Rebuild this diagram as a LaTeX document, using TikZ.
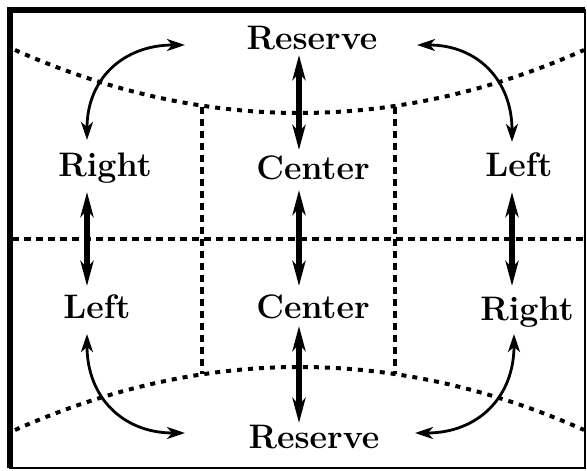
\documentclass[tikz,border=0pt]{standalone}
\usepackage{fontspec}
\usetikzlibrary{arrows.meta}
\tikzset{
  lbl/.style={anchor=base, inner sep=0pt, font={\fontsize{34}{40}\selectfont\bfseries}},
  grid/.style={line width=4pt, dash pattern=on 7pt off 5pt},
  arc/.style={line width=4pt, dash pattern=on 5pt off 6pt},
  dar/.style={line width=5.5pt, {Stealth[length=25pt,width=13pt,inset=7pt]}-{Stealth[length=25pt,width=13pt,inset=7pt]}},
  car/.style={line width=2.8pt, {Stealth[length=18pt,width=12pt,inset=5pt]}-{Stealth[length=18pt,width=12pt,inset=5pt]}},
}
\begin{document}
\begin{tikzpicture}[x=1pt,y=1pt]
\useasboundingbox (0,0) rectangle (587,471);
\fill[white] (0,0) rectangle (587,471);
% frame
\draw[line width=2.5pt] (10,3) rectangle (585,461);
\draw[line width=5.5pt] (10,3) -- (10,461) -- (585,461);
% labels
\node[lbl] (rt)  at (312,421) {Reserve};
\node[lbl] (rlu) at (105,294) {Right};
\node[lbl] (cu)  at (313,291) {Center};
\node[lbl] (llu) at (519,294) {Left};
\node[lbl] (lll) at (97,152)  {Left};
\node[lbl] (cl)  at (313,152) {Center};
\node[lbl] (rlr) at (527,150) {Right};
\node[lbl] (rb)  at (314,22)  {Reserve};
% grid lines
\coordinate (hl) at (12,232);
\coordinate (hr) at (584,232);
\coordinate (v1t) at (202,364);
\coordinate (v1b) at (202,97);
\coordinate (v2t) at (395,364);
\coordinate (v2b) at (395,97);
\draw[grid] (hl) -- (hr);
\draw[grid] (v1t) -- (v1b);
\draw[grid] (v2t) -- (v2b);
% curved boundaries
\coordinate (tl) at (15,421);
\coordinate (tr) at (584,421);
\coordinate (bl) at (15,41);
\coordinate (br) at (584,41);
\draw[arc] (tl) .. controls (204,337) and (395,337) .. (tr);
\draw[arc] (bl) .. controls (204,125) and (395,125) .. (br);
% straight arrows
\draw[dar] ([xshift=-13pt,yshift=-5pt]rt.base) -- ([xshift=-14pt,yshift=30pt]cu.base);
\draw[dar] ([xshift=-14pt,yshift=-10pt]cu.base) -- ([xshift=-14pt,yshift=33pt]cl.base);
\draw[dar] ([xshift=-14pt,yshift=-7pt]cl.base) -- ([xshift=-15pt,yshift=26pt]rb.base);
\draw[dar] ([xshift=-18pt,yshift=-15pt]rlu.base) -- ([xshift=-10pt,yshift=33pt]lll.base);
\draw[dar] ([xshift=-7pt,yshift=-15pt]llu.base) -- ([xshift=-15pt,yshift=35pt]rlr.base);
% curved arrows
\draw[car] ([xshift=-18pt,yshift=37pt]rlu.base) to[out=90,in=180,looseness=1.15] ([xshift=-127pt,yshift=5pt]rt.base);
\draw[car] ([xshift=105pt,yshift=5pt]rt.base) to[out=0,in=90,looseness=1.15] ([xshift=-7pt,yshift=35pt]llu.base);
\draw[car] ([xshift=-10pt,yshift=-15pt]lll.base) to[out=-90,in=180,looseness=1.15] ([xshift=-129pt,yshift=16pt]rb.base);
\draw[car] ([xshift=101pt,yshift=16pt]rb.base) to[out=0,in=-90,looseness=1.15] ([xshift=-13pt,yshift=-13pt]rlr.base);
\end{tikzpicture}
\end{document}
